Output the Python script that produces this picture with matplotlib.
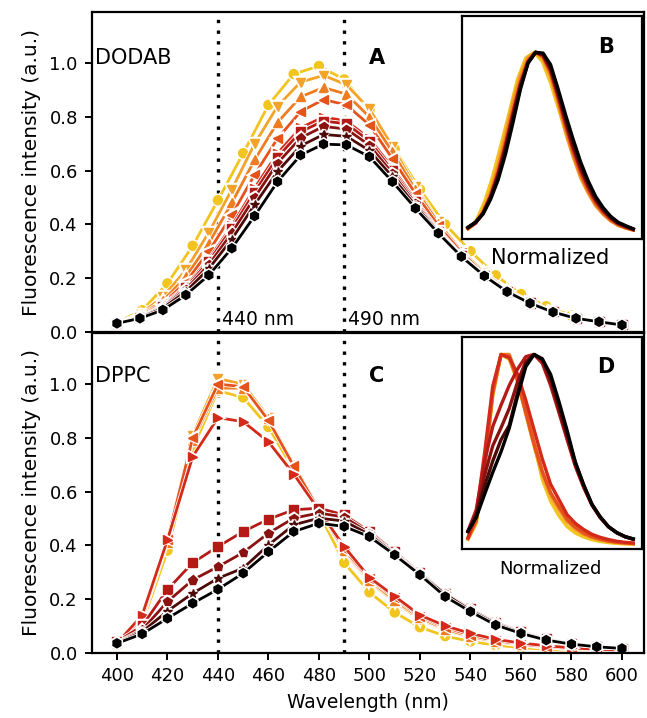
import numpy as np
import matplotlib
matplotlib.use('Agg')
import matplotlib.pyplot as plt
from matplotlib import patheffects as pe

# wavelength grids (nm); some DODAB traces carry markers every ~9 nm
wl_10 = [400, 410, 420, 430, 440, 450, 460, 470, 480, 490, 500,
         510, 520, 530, 540, 550, 560, 570, 580, 590, 600]
wl_9 = [400, 409.1, 418.2, 427.3, 436.4, 445.5, 454.5, 463.6, 472.7, 481.8, 490.9, 500,
        509.1, 518.2, 527.3, 536.4, 545.5, 554.5, 563.6, 572.7, 581.8, 590.9, 600]

colors = ['#f2c41e', '#f3a32a', '#ee7d22', '#e5531c', '#d42a1a',
          '#b51a16', '#8a1210', '#4c0a08', '#000000']
markers = ['o', 'v', '^', '<', '>', 's', 'p', '*', 'h']

# DODAB (panel A)
dodab_1 = [.035, .08, .18, .32, .49, .665, .845, .96, .99, .94, .825,
           .68, .53, .40, .30, .21, .14, .095, .06, .04, .03]
dodab_2 = [.035, .065, .13, .23, .37, .53, .70, .84, .93, .955, .92, .83,
           .69, .54, .41, .30, .22, .155, .11, .075, .052, .038, .027]
dodab_3 = [.034, .06, .115, .205, .33, .48, .64, .78, .875, .91, .885, .80,
           .67, .53, .405, .30, .22, .155, .11, .075, .052, .038, .027]
dodab_4 = [.033, .058, .105, .185, .30, .435, .585, .72, .82, .865, .845, .77,
           .645, .515, .395, .295, .215, .152, .108, .074, .051, .037, .026]
dodab_5 = [.032, .055, .098, .17, .27, .395, .535, .665, .76, .80, .785, .72,
           .61, .49, .38, .285, .21, .15, .107, .074, .051, .037, .026]
dodab_6 = [.032, .054, .095, .165, .262, .385, .52, .65, .745, .785, .775, .71,
           .60, .485, .375, .283, .209, .15, .107, .074, .051, .037, .026]
dodab_7 = [.032, .053, .092, .158, .25, .368, .50, .628, .722, .765, .755, .695,
           .59, .478, .372, .282, .208, .149, .106, .073, .05, .037, .025]
dodab_8 = [.031, .052, .088, .15, .235, .345, .473, .597, .692, .735, .728, .675,
           .577, .47, .37, .281, .208, .149, .106, .073, .05, .037, .025]
dodab_9 = [.031, .05, .081, .137, .211, .311, .431, .559, .658, .699, .696, .652,
           .559, .46, .367, .28, .208, .149, .106, .073, .05, .037, .025]
dodab = [dodab_1, dodab_2, dodab_3, dodab_4, dodab_5, dodab_6, dodab_7, dodab_8, dodab_9]
dodab_wl = [wl_10] + [wl_9] * 8

# DPPC (panel C)
dppc_1 = [.03, .11, .38, .76, .975, .95, .84, .68, .52, .335, .225,
          .15, .095, .062, .042, .028, .019, .013, .009, .006, .005]
dppc_2 = [.035, .13, .42, .81, 1.02, 1.0, .875, .70, .53, .375, .265,
          .19, .125, .085, .058, .04, .028, .02, .014, .01, .008]
dppc_3 = [.035, .125, .41, .79, .985, .985, .87, .70, .535, .38, .27,
          .195, .13, .088, .06, .042, .03, .021, .015, .011, .008]
dppc_4 = [.035, .13, .42, .80, 1.0, .99, .865, .695, .53, .385, .275,
          .205, .135, .095, .065, .045, .032, .022, .016, .012, .009]
dppc_5 = [.035, .14, .42, .73, .875, .86, .785, .665, .53, .395, .28,
          .21, .14, .10, .072, .05, .036, .026, .018, .013, .01]
dppc_6 = [.04, .10, .235, .335, .395, .451, .497, .532, .538, .513, .451,
          .375, .298, .222, .163, .113, .078, .052, .035, .024, .017]
dppc_7 = [.037, .085, .19, .271, .32, .373, .445, .501, .52, .505, .445,
          .37, .295, .22, .161, .111, .076, .05, .034, .023, .016]
dppc_8 = [.036, .078, .155, .221, .277, .315, .401, .476, .501, .49, .44,
          .367, .292, .218, .158, .108, .074, .049, .033, .022, .016]
dppc_9 = [.035, .07, .128, .184, .236, .296, .376, .451, .482, .47, .432,
          .364, .29, .209, .153, .103, .072, .047, .032, .022, .016]
dppc = [dppc_1, dppc_2, dppc_3, dppc_4, dppc_5, dppc_6, dppc_7, dppc_8, dppc_9]

fs = 13
plt.rcParams['font.family'] = 'DejaVu Sans'
plt.rcParams['axes.linewidth'] = 1.6

fig = plt.figure(figsize=(6.47, 7.18), dpi=100)
ax_a = fig.add_axes([0.1417, 0.538, 0.8536, 0.4448])
ax_c = fig.add_axes([0.1417, 0.0909, 0.8536, 0.4453])

stroke = [pe.Stroke(linewidth=3.2, foreground='white'), pe.Normal()]


def draw_panel(ax, wls, series):
    for wl, y, c, m in zip(wls, series, colors, markers):
        ax.plot(wl, y, color=c, marker=m, markersize=6.5, lw=2.0,
                markeredgecolor=c, path_effects=stroke)
    for x in (440, 490):
        ax.axvline(x, color='black', ls=(0, (1, 2.2)), lw=2.4, zorder=0)
    ax.set_xlim(390, 608.7)
    ax.set_ylim(0, 1.19)
    ax.set_yticks([0.0, 0.2, 0.4, 0.6, 0.8, 1.0])
    ax.tick_params(direction='out', length=5, width=1.4, labelsize=fs, pad=5)
    ax.set_ylabel('Fluorescence intensity (a.u.)', fontsize=14.5, labelpad=6)


draw_panel(ax_a, dodab_wl, dodab)
draw_panel(ax_c, [wl_10] * 9, dppc)

ax_a.tick_params(axis='x', bottom=False, labelbottom=False)
ax_a.text(391.5, 1.02, 'DODAB', fontsize=15, va='center')
ax_a.text(503, 1.02, 'A', fontsize=15, fontweight='bold', ha='center', va='center')
ax_a.text(441.5, 0.045, '440 nm', fontsize=13.5, va='center')
ax_a.text(491.5, 0.045, '490 nm', fontsize=13.5, va='center')

ax_c.text(391.5, 1.03, 'DPPC', fontsize=15, va='center')
ax_c.text(503, 1.03, 'C', fontsize=15, fontweight='bold', ha='center', va='center')
ax_c.set_xticks(range(400, 601, 20))
ax_c.set_xlabel('Wavelength (nm)', fontsize=13.5, labelpad=6)

# normalized insets
ax_b = fig.add_axes([0.7136, 0.6671, 0.2791, 0.311])
ax_d = fig.add_axes([0.7136, 0.2354, 0.2791, 0.2948])
for ax, wls, series, ylim, lab, nfs, ny in ((ax_b, dodab_wl, dodab, (-0.02, 1.2), 'B', 15, -0.085),
                                            (ax_d, [wl_10] * 9, dppc, (-0.02, 1.09), 'D', 13, -0.095)):
    for wl, y, c in zip(wls, series, colors):
        y = np.array(y)
        ax.plot(wl, y / y.max(), color=c, lw=2.4)
    ax.set_xlim(392.4, 611)
    ax.set_ylim(*ylim)
    ax.set_xticks([])
    ax.set_yticks([])
    ax.text(0.8, 0.86, lab, transform=ax.transAxes, fontsize=15,
            fontweight='bold', ha='center', va='center')
    ax.text(0.49, ny, 'Normalized', transform=ax.transAxes, fontsize=nfs,
            ha='center', va='center')

fig.savefig('out.png', dpi=100)
